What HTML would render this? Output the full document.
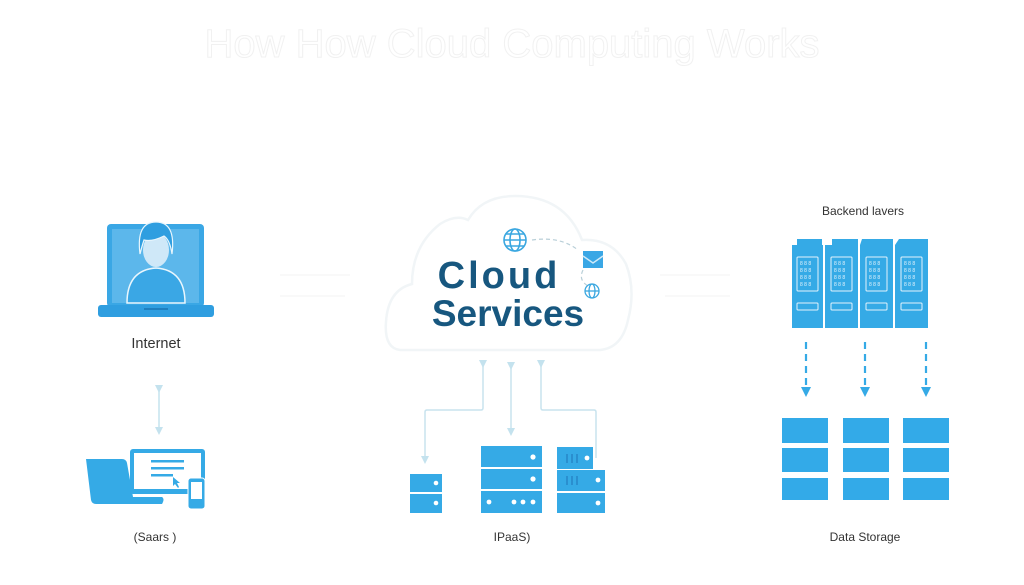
<!DOCTYPE html>
<html><head><meta charset="utf-8"><style>
html,body{margin:0;padding:0;background:#fff;}
body{width:1024px;height:585px;overflow:hidden;}
svg{display:block;}
text{font-family:"Liberation Sans",sans-serif;}
</style></head><body>
<svg width="1024" height="585" viewBox="0 0 1024 585" xmlns="http://www.w3.org/2000/svg">
<defs>
<marker id="ah" markerWidth="8" markerHeight="8" refX="4" refY="4" orient="auto" markerUnits="userSpaceOnUse"><path d="M0,0 L8,4 L0,8 Z" fill="#c4e2ee"/></marker>
<marker id="ahd" markerWidth="10" markerHeight="10" refX="5" refY="5" orient="auto" markerUnits="userSpaceOnUse"><path d="M0,0 L10,5 L0,10 Z" fill="#35aae6"/></marker>
</defs>

<!-- Title (very faint, outlined) -->
<text x="512" y="57" text-anchor="middle" font-size="40" fill="#ffffff" stroke="#f1f1f1" stroke-width="1">How How Cloud Computing Works</text>

<!-- faint arrows -->
<g stroke="#f9f9f9" stroke-width="2" fill="none">
<line x1="280" y1="275" x2="350" y2="275"/><line x1="280" y1="296" x2="345" y2="296"/>
<line x1="660" y1="275" x2="730" y2="275"/><line x1="665" y1="296" x2="730" y2="296"/>
</g>

<!-- Internet laptop -->
<g>
<rect x="107" y="224" width="97" height="83" rx="4" fill="#3aa7e5"/>
<rect x="112" y="229" width="87" height="74" fill="#5cb7eb"/>
<!-- person -->
<path d="M127 303 Q127 270 156 268 Q185 270 185 303 Z" fill="#3aa7e5" stroke="#e9f6fd" stroke-width="1.5"/>
<ellipse cx="156" cy="250" rx="13" ry="17" fill="#cfe8f8"/>
<path d="M140 254 Q136 222 156 222 Q176 222 172 254 Q170 240 164 236 Q152 242 144 240 Q142 246 140 254 Z" fill="#2f9ee0" stroke="#e9f6fd" stroke-width="1.2"/>
<rect x="98" y="305" width="116" height="12" rx="3" fill="#2f9ee0"/>
<rect x="144" y="308" width="24" height="2" fill="#1f7fbf"/>
</g>
<text x="156" y="348" text-anchor="middle" font-size="14.5" fill="#333">Internet</text>

<!-- double arrow internet - saas -->
<line x1="159" y1="389" x2="159" y2="431" stroke="#c4e2ee" stroke-width="1.5" marker-start="url(#ah)" marker-end="url(#ah)"/>

<!-- SaaS icon -->
<g>
<path d="M86 459 L122 459 Q126 459 127 463 L133 497 L162 497 Q165 499 162 504 L96 504 Q92 504 91 500 Z" fill="#35aae6"/>
<rect x="130" y="449" width="75" height="45" rx="3" fill="#35aae6"/>
<rect x="134" y="453" width="67" height="36" fill="#ffffff"/>
<rect x="151" y="460" width="33" height="2.5" fill="#35aae6"/>
<rect x="151" y="467" width="33" height="2.5" fill="#35aae6"/>
<rect x="151" y="474" width="22" height="2.5" fill="#35aae6"/>
<path d="M173 477 L173 486 L175 484 L178 488 L179 487 L177 483 L180 483 Z" fill="#35aae6"/>
<rect x="188" y="478" width="17" height="31" rx="3" fill="#35aae6" stroke="#fff" stroke-width="1"/>
<rect x="191" y="482" width="11" height="17" fill="#fff"/>
</g>
<text x="155" y="541" text-anchor="middle" font-size="12" fill="#333">(Saars )</text>

<!-- Cloud -->
<path d="M400 350 Q384 348 386 322 Q388 290 412 284 Q412 246 440 224 Q456 214 468 220 Q482 196 515 196 Q565 196 582 240 Q612 238 626 264 Q636 290 628 320 Q622 348 600 350 Z" fill="#ffffff" stroke="#f1f5f7" stroke-width="2.5"/>
<text x="499" y="288" text-anchor="middle" font-size="38" font-weight="bold" fill="#17577f" letter-spacing="3">Cloud</text>
<text x="508" y="326" text-anchor="middle" font-size="37" font-weight="bold" fill="#17577f">Services</text>

<!-- globe -->
<g stroke="#3aa7e0" stroke-width="1.6" fill="none">
<circle cx="515" cy="240" r="11"/>
<ellipse cx="515" cy="240" rx="5" ry="11"/>
<line x1="504" y1="240" x2="526" y2="240"/>
<line x1="506" y1="234" x2="524" y2="234"/>
<line x1="506" y1="246" x2="524" y2="246"/>
</g>
<path d="M532 240 Q560 236 578 250 M583 270 Q578 280 588 286" stroke="#b9cfd8" stroke-width="1.2" stroke-dasharray="4 3" fill="none"/>
<!-- envelope -->
<rect x="583" y="251" width="20" height="17" fill="#3aa7e5"/>
<path d="M583 256 L593 263 L603 256" stroke="#cfeaf9" stroke-width="1.5" fill="none"/>
<!-- small globe -->
<g stroke="#3aa7e0" stroke-width="1.3" fill="none">
<circle cx="592" cy="291" r="7"/>
<ellipse cx="592" cy="291" rx="3" ry="7"/>
<line x1="585" y1="291" x2="599" y2="291"/>
</g>

<!-- connectors below cloud -->
<g stroke="#c8e3ee" stroke-width="1.5" fill="none">
<path d="M483 364 L483 408 Q483 410 481 410 L427 410 Q425 410 425 412 L425 460" marker-start="url(#ah)" marker-end="url(#ah)"/>
<line x1="511" y1="366" x2="511" y2="432" marker-start="url(#ah)" marker-end="url(#ah)"/>
<path d="M541 364 L541 408 Q541 410 543 410 L594 410 Q596 410 596 412 L596 458" marker-start="url(#ah)"/>
</g>

<!-- Servers -->
<g fill="#35aae6">
<rect x="410" y="474" width="32" height="18"/>
<rect x="410" y="494" width="32" height="19"/>
<circle cx="436" cy="483" r="2.3" fill="#fff"/>
<circle cx="436" cy="503" r="2.3" fill="#fff"/>

<rect x="481" y="446" width="61" height="21"/>
<rect x="481" y="469" width="61" height="20"/>
<rect x="481" y="491" width="61" height="22"/>
<circle cx="533" cy="457" r="2.6" fill="#fff"/>
<circle cx="533" cy="479" r="2.6" fill="#fff"/>
<circle cx="489" cy="502" r="2.4" fill="#fff"/>
<circle cx="514" cy="502" r="2.4" fill="#fff"/>
<circle cx="523" cy="502" r="2.4" fill="#fff"/>
<circle cx="533" cy="502" r="2.4" fill="#fff"/>

<rect x="557" y="447" width="36" height="22"/>
<rect x="557" y="470" width="48" height="21"/>
<rect x="557" y="493" width="48" height="20"/>
<circle cx="587" cy="458" r="2.4" fill="#fff"/>
<circle cx="598" cy="480" r="2.4" fill="#fff"/>
<circle cx="598" cy="503" r="2.4" fill="#fff"/>
<rect x="566" y="454" width="2" height="9" fill="#2a8fcf"/><rect x="571" y="454" width="2" height="9" fill="#2a8fcf"/><rect x="576" y="454" width="2" height="9" fill="#2a8fcf"/>
<rect x="566" y="476" width="2" height="9" fill="#2a8fcf"/><rect x="571" y="476" width="2" height="9" fill="#2a8fcf"/><rect x="576" y="476" width="2" height="9" fill="#2a8fcf"/>
</g>
<text x="512" y="541" text-anchor="middle" font-size="12" fill="#333">IPaaS)</text>

<!-- Backend layers -->
<text x="863" y="215" text-anchor="middle" font-size="12" fill="#333">Backend lavers</text>
<g fill="#35aae6">
<path d="M792 245 L797 245 L797 239 L822 239 L822 245 L823 245 L823 328 L792 328 Z"/>
<path d="M825 245 L832 245 L832 239 L858 239 L858 328 L825 328 Z"/>
<path d="M860 245 L862 239 L893 239 L893 328 L860 328 Z"/>
<path d="M895 245 L899 239 L928 239 L928 245 L928 328 L895 328 Z"/>
</g>
<g fill="none" stroke="#e3f3fc" stroke-width="1">
<rect x="797" y="257" width="21" height="34" rx="1"/>
<rect x="831" y="257" width="21" height="34" rx="1"/>
<rect x="866" y="257" width="21" height="34" rx="1"/>
<rect x="901" y="257" width="21" height="34" rx="1"/>
<rect x="797" y="303" width="21" height="7" rx="1"/>
<rect x="831" y="303" width="21" height="7" rx="1"/>
<rect x="866" y="303" width="21" height="7" rx="1"/>
<rect x="901" y="303" width="21" height="7" rx="1"/>
</g>
<g fill="#e3f3fc" font-size="5">
<text x="800" y="265">8 8 8</text><text x="800" y="272">8 8 8</text><text x="800" y="279">8 8 8</text><text x="800" y="286">8 8 8</text>
<text x="834" y="265">8 8 8</text><text x="834" y="272">8 8 8</text><text x="834" y="279">8 8 8</text><text x="834" y="286">8 8 8</text>
<text x="869" y="265">8 8 8</text><text x="869" y="272">8 8 8</text><text x="869" y="279">8 8 8</text><text x="869" y="286">8 8 8</text>
<text x="904" y="265">8 8 8</text><text x="904" y="272">8 8 8</text><text x="904" y="279">8 8 8</text><text x="904" y="286">8 8 8</text>
</g>

<!-- dashed arrows -->
<g stroke="#35aae6" stroke-width="2.2" stroke-dasharray="7 5" fill="none">
<line x1="806" y1="342" x2="806" y2="392" marker-end="url(#ahd)"/>
<line x1="865" y1="342" x2="865" y2="392" marker-end="url(#ahd)"/>
<line x1="926" y1="342" x2="926" y2="392" marker-end="url(#ahd)"/>
</g>

<!-- Data storage -->
<g fill="#33aae8">
<rect x="782" y="418" width="46" height="25"/>
<rect x="782" y="448" width="46" height="24"/>
<rect x="782" y="478" width="46" height="22"/>
<rect x="843" y="418" width="46" height="25"/>
<rect x="843" y="448" width="46" height="24"/>
<rect x="843" y="478" width="46" height="22"/>
<rect x="903" y="418" width="46" height="25"/>
<rect x="903" y="448" width="46" height="24"/>
<rect x="903" y="478" width="46" height="22"/>
</g>
<text x="865" y="541" text-anchor="middle" font-size="12" fill="#333">Data Storage</text>
</svg>
</body></html>
